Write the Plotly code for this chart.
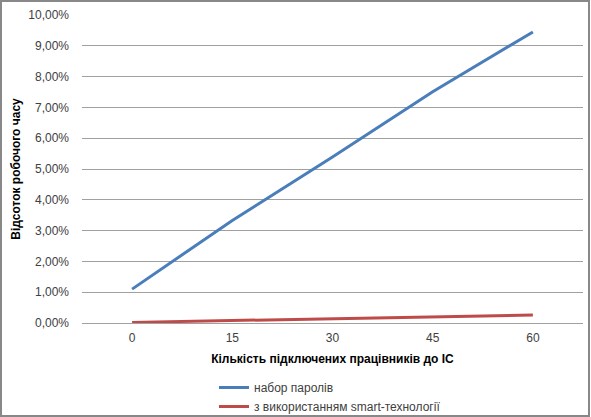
import plotly.graph_objects as go

categories = ["0", "15", "30", "45", "60"]
passwords = [0.0110, 0.0333, 0.0539, 0.0751, 0.0945]
smart = [0.0002, 0.0008, 0.0014, 0.0020, 0.0026]
y_ticks = [i / 100 for i in range(0, 11)]
y_tick_labels = [f"{i},00%" for i in range(0, 11)]

series_names = ["набор паролів", "з використанням smart-технології"]
colors = ["#4a7ebb", "#be4b48"]

FONT = "Liberation Sans"
PW, PH = 501, 308

fig = go.Figure()
for name, vals, col in zip(series_names, [passwords, smart], colors):
    fig.add_trace(go.Scatter(
        x=categories, y=vals, mode="lines", name=name,
        line=dict(color=col, width=3),
    ))

fig.update_layout(
    width=591, height=417,
    margin=dict(l=82, r=8, t=15, b=94, autoexpand=False),
    paper_bgcolor="white", plot_bgcolor="white",
    font=dict(family=FONT, size=12, color="#404040"),
    showlegend=True,
    legend=dict(
        x=(214 - 82) / PW, y=-50 / PH, xanchor="left", yanchor="top",
        orientation="v", font=dict(size=12, color="#404040"),
        tracegroupgap=0, bgcolor="rgba(0,0,0,0)",
    ),
    shapes=[dict(type="rect", xref="paper", yref="paper",
                 x0=-81 / PW, x1=1 + 6 / PW, y0=-93 / PH, y1=1 + 14 / PH,
                 line=dict(color="#888888", width=2))],
)
fig.update_xaxes(
    type="category", range=[-0.5, 4.5], automargin=False,
    showgrid=False, showline=False, zeroline=False,
    ticks="", ticklabelstandoff=6, tickfont=dict(size=12, color="#404040"),
    title=dict(text="<b>Кількість підключених працівників до ІС</b>",
               font=dict(size=12, color="#000000"), standoff=10),
)
fig.update_yaxes(
    range=[0, 0.1], tickvals=y_ticks, ticktext=y_tick_labels, automargin=False,
    showgrid=True, gridcolor="#a0a0a0", gridwidth=1,
    zeroline=True, zerolinecolor="#a0a0a0", zerolinewidth=1,
    showline=False, ticks="", ticklabelstandoff=12,
    tickfont=dict(size=12, color="#404040"),
    title=dict(text="<b>Відсоток робочого часу</b>",
               font=dict(size=12, color="#000000"), standoff=5),
)

fig.write_html("out.html", config={"displayModeBar": False},
               post_script="document.body.style.margin='0';")
